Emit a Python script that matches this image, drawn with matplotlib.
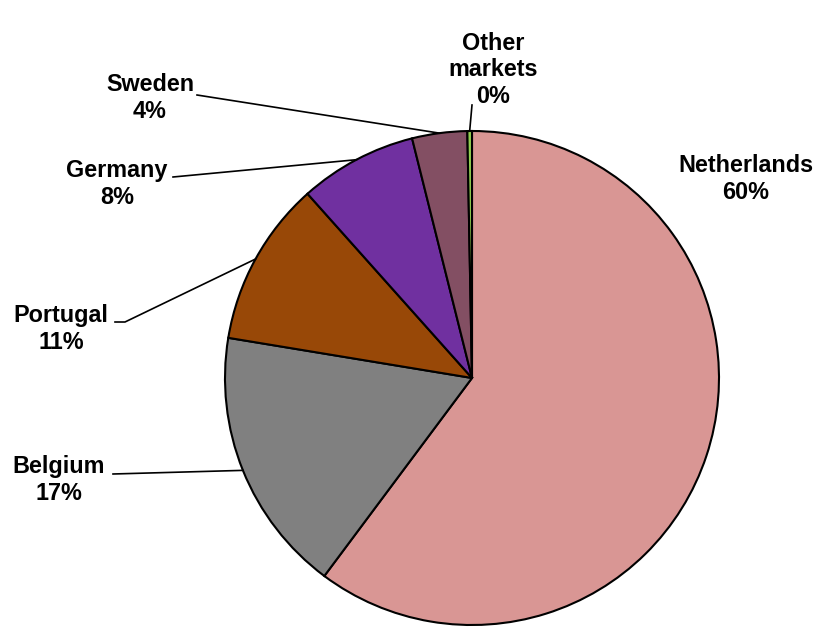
import numpy as np
import matplotlib.pyplot as plt

# Dados do gráfico (participação por mercado, %)
mercados = ["Netherlands", "Belgium", "Portugal", "Germany", "Sweden", "Other\nmarkets"]
valores = [60.2, 17.4, 10.8, 7.7, 3.6, 0.3]
cores = ["#D99694", "#808080", "#984807", "#7030A0", "#834F63", "#92D050"]

# Posição dos rótulos (pixels da figura) e ponto de quebra da linha guia
pos_rotulos = [(746, 179), (59, 480), (61, 329), (117, 184), (150, 98), (493, 70)]
inicio_linha = [None, (113, 474), (115, 322), (173, 177), (197, 95), (472, 105)]
quebra_linha = [None, None, (125, 322), None, None, None]

W, H = 818, 628
fig = plt.figure(figsize=(W / 100, H / 100), dpi=100)
ax = fig.add_axes([0, 0, 1, 1])
ax.set_aspect("equal")

cx, cy, r = 472, H - 378, 247
fatias, _ = ax.pie(valores, colors=cores, startangle=90, counterclock=False,
                   center=(cx, cy), radius=r, frame=True,
                   wedgeprops=dict(edgecolor="black", linewidth=1.5))
ax.set_xlim(0, W)
ax.set_ylim(0, H)
ax.axis("off")

for i, fatia in enumerate(fatias):
    texto = f"{mercados[i]}\n{round(valores[i]):.0f}%"
    lx, ly = pos_rotulos[i]
    ax.text(lx, H - ly, texto, ha="center", va="center", fontsize=16.8,
            fontweight="bold", family="Liberation Sans", linespacing=1.2)
    if inicio_linha[i] is not None:
        meio = np.deg2rad((fatia.theta1 + fatia.theta2) / 2)
        px, py = cx + r * np.cos(meio), cy + r * np.sin(meio)
        pts = [inicio_linha[i]]
        if quebra_linha[i] is not None:
            pts.append(quebra_linha[i])
        xs = [p[0] for p in pts] + [px]
        ys = [H - p[1] for p in pts] + [py]
        ax.plot(xs, ys, color="black", linewidth=1.2)

fig.savefig("out.png", dpi=100)
